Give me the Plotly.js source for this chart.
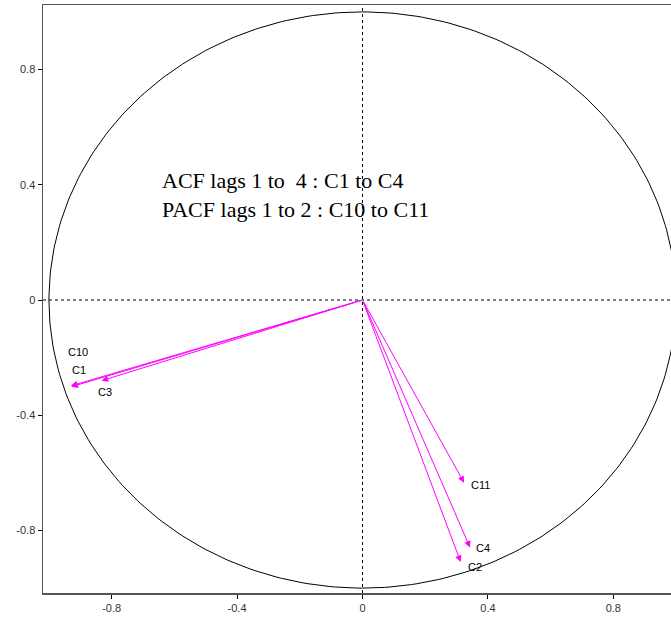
<!DOCTYPE html>
<html>
<head>
<meta charset="utf-8">
<script src="https://cdn.plot.ly/plotly-3.0.1.min.js"></script>
<style>html,body{margin:0;padding:0;background:#fff;}</style>
</head>
<body>
<div id="chart" style="width:671px;height:617px;"></div>
<script>
// Variables (loadings)
const varNames = ["C1", "C2", "C3", "C4", "C10", "C11"];
const varX = [-0.928, 0.313, -0.832, 0.343, -0.930, 0.324];
const varY = [-0.301, -0.909, -0.280, -0.859, -0.298, -0.634];
const xTicks = [-0.8, -0.4, 0, 0.4, 0.8];
const yTicks = [-0.8, -0.4, 0, 0.4, 0.8];
const noteLines = ["ACF lags 1 to  4 : C1 to C4", "PACF lags 1 to 2 : C10 to C11"];

// label placement (pixels) for each variable label
const labelShift = {
  "C1":  [-2, 17],
  "C10": [-5, 34],
  "C3":  [-6, -11],
  "C2":  [5, -5],
  "C4":  [4, -1],
  "C11": [5, -2]
};

// unit circle
const circX = [], circY = [];
for (let i = 0; i <= 360; i++) {
  const a = i * Math.PI / 180;
  circX.push(Math.cos(a));
  circY.push(Math.sin(a));
}

const traces = [{
  type: "scatter", mode: "lines", x: circX, y: circY,
  line: {color: "#000", width: 1}, hoverinfo: "skip", showlegend: false
}];

const annotations = [];
varNames.forEach((n, i) => {
  annotations.push({
    x: varX[i], y: varY[i], ax: 0, ay: 0, axref: "x", ayref: "y", xref: "x", yref: "y",
    text: "", showarrow: true, arrowhead: 2, arrowsize: 1.3, arrowwidth: 1, arrowcolor: "#ff00ff"
  });
  const s = labelShift[n] || [10, 0];
  annotations.push({
    x: varX[i], y: varY[i], xref: "x", yref: "y", text: n, showarrow: false,
    xshift: s[0], yshift: s[1], xanchor: "left", yanchor: "middle",
    font: {family: "Liberation Sans, Arial, sans-serif", size: 11, color: "#000"}
  });
});
annotations.push({
  x: -0.646, y: 0.365, xref: "x", yref: "y", showarrow: false,
  text: noteLines.join("<br>"), align: "left", xanchor: "left", yanchor: "middle",
  font: {family: "Liberation Serif, Times New Roman, serif", size: 22, color: "#000"}
});

const layout = {
  width: 671, height: 617,
  margin: {l: 43, r: 0, t: 5, b: 24},
  paper_bgcolor: "#fff", plot_bgcolor: "#fff",
  showlegend: false,
  xaxis: {
    range: [-1.019, 0.984], tickvals: xTicks, ticktext: xTicks.map(String),
    showgrid: false, zeroline: false, showline: true, mirror: true,
    linecolor: "#555", linewidth: 1.5, ticks: "outside", ticklen: 4, tickcolor: "#000",
    tickfont: {family: "Liberation Sans, Arial, sans-serif", size: 11, color: "#333"}
  },
  yaxis: {
    range: [-1.017, 1.024], tickvals: yTicks, ticktext: yTicks.map(String),
    showgrid: false, zeroline: false, showline: true, mirror: false,
    linecolor: "#555", linewidth: 1.5, ticks: "outside", ticklen: 4, tickcolor: "#000",
    tickfont: {family: "Liberation Sans, Arial, sans-serif", size: 11, color: "#333"}
  },
  shapes: [
    {type: "line", xref: "x", yref: "paper", x0: 0, x1: 0, y0: 0, y1: 1, line: {color: "#000", width: 1, dash: "3px,3px"}},
    {type: "line", xref: "paper", yref: "y", x0: 0, x1: 1, y0: 0, y1: 0, line: {color: "#000", width: 1, dash: "3px,3px"}}
  ],
  annotations: annotations
};

Plotly.newPlot("chart", traces, layout, {displayModeBar: false, staticPlot: true});
</script>
</body>
</html>
